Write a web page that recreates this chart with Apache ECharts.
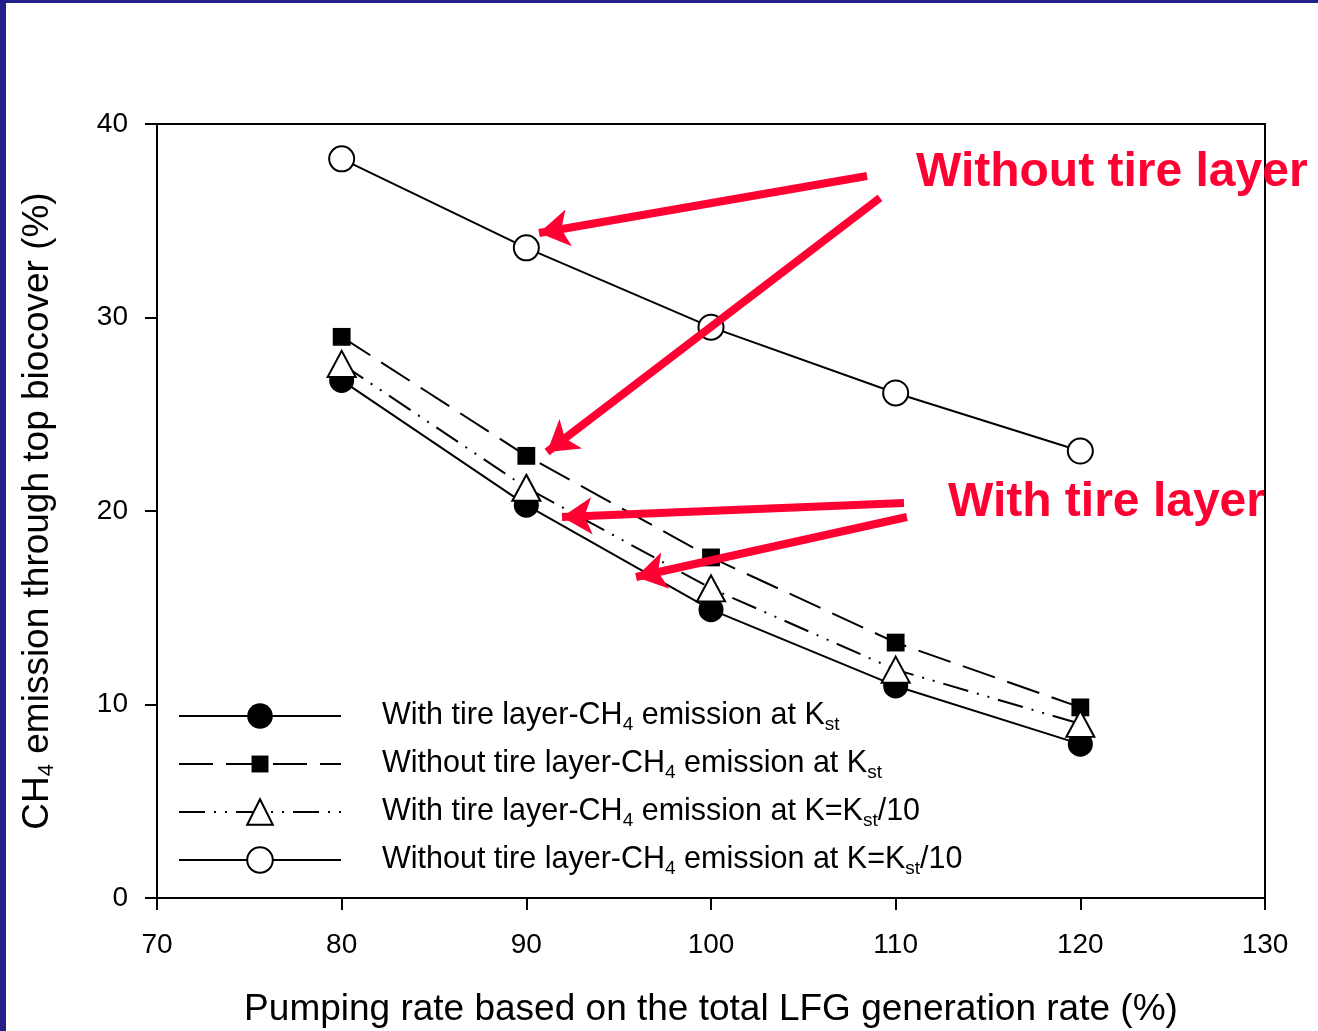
<!DOCTYPE html>
<html>
<head>
<meta charset="utf-8">
<script src="https://cdn.jsdelivr.net/npm/echarts@6/dist/echarts.min.js"></script>
<style>
html,body{margin:0;padding:0;background:#fff;}
#chart{width:1318px;height:1031px;}
</style>
</head>
<body>
<div id="chart"></div>
<script>
// ---- data ----
const xValues = [80, 90, 100, 110, 120];
const withTireKst = [26.75, 20.3, 14.9, 10.96, 7.95];
const withoutTireKst = [29.0, 22.85, 17.6, 13.2, 9.85];
const withTireKst10 = [27.6, 21.2, 16.0, 11.8, 9.0];
const withoutTireKst10 = [38.2, 33.6, 29.5, 26.1, 23.1];
const xTicks = [70, 80, 90, 100, 110, 120, 130];
const yTicks = [0, 10, 20, 30, 40];
const seriesNames = [
  'With tire layer-CH4 emission at Kst',
  'Without tire layer-CH4 emission at Kst',
  'With tire layer-CH4 emission at K=Kst/10',
  'Without tire layer-CH4 emission at K=Kst/10'
];
const seriesLabels = [
  'With tire layer-CH{s|4} emission at K{s|st}',
  'Without tire layer-CH{s|4} emission at K{s|st}',
  'With tire layer-CH{s|4} emission at K=K{s|st}/10',
  'Without tire layer-CH{s|4} emission at K=K{s|st}/10'
];
// annotation arrows: [start, tip] in data coordinates
const arrows = [
  [[108.45, 37.31], [90.69, 34.37]],
  [[109.15, 36.18], [91.12, 23.05]],
  [[110.45, 20.41], [91.93, 19.69]],
  [[110.61, 19.69], [95.94, 16.59]]
];
const annotations = ['Without tire layer', 'With tire layer'];

const FONT = '"Liberation Sans", Arial, sans-serif';
const RED = '#ff0033';
// square marker padded inside its box (so the legend marker stays small)
const SQUARE = 'path://M0,0M100,100M17,17L83,17L83,83L17,83Z';

function pairs(vals) { return xValues.map((x, i) => [x, vals[i]]); }

const chart = echarts.init(document.getElementById('chart'), null, {renderer: 'canvas'});
const subStyle = {fontSize: 19, fontFamily: FONT, color: '#000', verticalAlign: 'bottom', lineHeight: 22};

const option = {
  backgroundColor: '#ffffff',
  animation: false,
  grid: {left: 157, right: 53, top: 124, bottom: 133, containLabel: false, outerBoundsMode: 'none',
    show: true, borderColor: '#000', borderWidth: 2, backgroundColor: 'transparent'},
  xAxis: {
    type: 'value', min: 70, max: 130, interval: 10,
    name: 'Pumping rate based on the total LFG generation rate (%)',
    nameLocation: 'middle', nameGap: 92,
    nameTextStyle: {fontSize: 37, fontFamily: FONT, color: '#000', lineHeight: 40},
    axisLine: {show: true, onZero: false, lineStyle: {color: '#000', width: 2}},
    axisTick: {show: true, inside: false, length: 12, lineStyle: {color: '#000', width: 2}},
    axisLabel: {fontSize: 28, fontFamily: FONT, color: '#000', margin: 33,
      formatter: v => xTicks.includes(v) ? String(v) : ''},
    splitLine: {show: false}
  },
  yAxis: {
    type: 'value', min: 0, max: 40, interval: 10,
    name: 'CH{s|4} emission through top biocover (%)',
    nameLocation: 'middle', nameGap: 99,
    nameTextStyle: {fontSize: 37, fontFamily: FONT, color: '#000', lineHeight: 40,
      rich: {s: {fontSize: 22, fontFamily: FONT, color: '#000', verticalAlign: 'bottom', lineHeight: 24}}},
    axisLine: {show: true, lineStyle: {color: '#000', width: 2}},
    axisTick: {show: true, inside: false, length: 12, lineStyle: {color: '#000', width: 2}},
    axisLabel: {fontSize: 28, fontFamily: FONT, color: '#000', margin: 29,
      formatter: v => yTicks.includes(v) ? String(v) : ''},
    splitLine: {show: false}
  },
  legend: {
    orient: 'vertical', left: 178, top: 698, padding: 0,
    itemWidth: 162, itemHeight: 32, itemGap: 12,
    data: seriesNames,
    selectedMode: false,
    formatter: name => seriesLabels[seriesNames.indexOf(name)],
    textStyle: {fontSize: 30.5, fontFamily: FONT, color: '#000', lineHeight: 36, padding: [0, 0, 0, 36],
      rich: {s: subStyle}}
  },
  series: [
    {
      name: seriesNames[0], type: 'line', data: pairs(withTireKst),
      symbol: 'circle', symbolSize: 25,
      itemStyle: {color: '#000'},
      lineStyle: {color: '#000', width: 2, type: 'solid'}
    },
    {
      name: seriesNames[1], type: 'line', data: pairs(withoutTireKst),
      symbol: SQUARE, symbolSize: 27,
      itemStyle: {color: '#000'},
      lineStyle: {color: '#000', width: 2, type: [34, 13]}
    },
    {
      name: seriesNames[2], type: 'line', data: pairs(withTireKst10),
      symbol: 'triangle', symbolSize: [28, 26],
      itemStyle: {color: '#fff', borderColor: '#000', borderWidth: 2},
      lineStyle: {color: '#000', width: 2, type: [26, 9, 2, 9, 2, 9]}
    },
    {
      name: seriesNames[3], type: 'line', data: pairs(withoutTireKst10),
      symbol: 'circle', symbolSize: 25,
      itemStyle: {color: '#fff', borderColor: '#000', borderWidth: 2},
      lineStyle: {color: '#000', width: 2, type: 'solid'}
    },
    {
      name: 'arrows', type: 'line', data: [], silent: true, z: 5,
      markLine: {
        silent: true, animation: false,
        symbol: ['none', 'arrow'], symbolSize: [28, 30],
        label: {show: false},
        lineStyle: {color: RED, width: 8, type: 'solid', cap: 'butt'},
        emphasis: {disabled: true},
        data: arrows.map(a => [{coord: a[0]}, {coord: a[1]}])
      }
    }
  ],
  graphic: [
    {type: 'rect', shape: {x: 0, y: 0, width: 6, height: 1031}, style: {fill: '#22208a'}, z: 100},
    {type: 'rect', shape: {x: 0, y: 0, width: 1318, height: 3}, style: {fill: '#22208a'}, z: 100},
    {type: 'text', x: 916, y: 173, z: 50,
      style: {text: annotations[0], fill: RED, font: 'bold 48px ' + FONT, verticalAlign: 'middle', align: 'left'}},
    {type: 'text', x: 948, y: 503, z: 50,
      style: {text: annotations[1], fill: RED, font: 'bold 48px ' + FONT, verticalAlign: 'middle', align: 'left'}}
  ]
};
chart.setOption(option);
</script>
</body>
</html>
